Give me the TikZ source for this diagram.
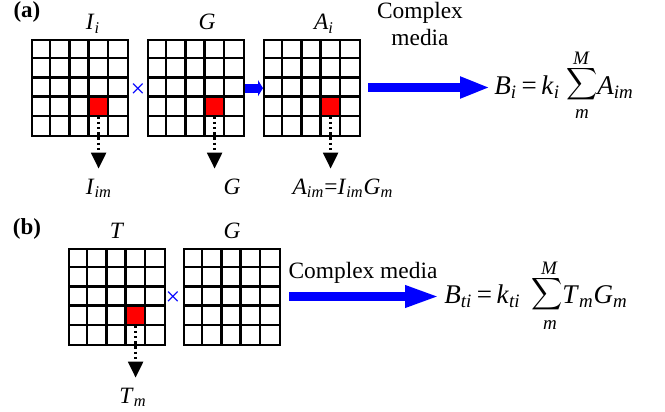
\documentclass[tikz,border=0pt]{standalone}
\usepackage{graphicx}
\usepackage{fontspec}
\setmainfont{Liberation Serif}
\usetikzlibrary{arrows.meta,calc}
\definecolor{pureblue}{RGB}{0,0,255}
\definecolor{purered}{RGB}{255,0,0}
\newcommand{\vi}[1]{\textit{#1}}
\newcommand{\vs}[1]{\textsubscript{\textit{#1}}}
\tikzset{
  gridframe/.style={draw, line width=1.15pt, minimum size=48pt, inner sep=0pt, anchor=north west},
  gridline/.style={line width=1.15pt},
  redcellbox/.style={fill=purered, minimum size=9.6pt, inner sep=0pt, anchor=north west},
  dotarrow/.style={line width=1.2pt, dash pattern=on 1.2pt off 1.4pt, -{Triangle[width=7.5pt,length=8pt]}},
  bigarrow/.style={pureblue, line width=4.75pt, -{Triangle[width=10pt,length=15pt]}},
  smallarrow/.style={pureblue, line width=4.5pt, -{Triangle[width=8pt,length=2.5pt]}},
  lbl/.style={anchor=base, inner sep=0pt},
  formula/.style={anchor=base west, inner sep=0pt, font=\fontsize{13.5}{16}\selectfont},
  sumsign/.style={inner sep=0pt, font=\fontsize{10}{12}\selectfont},
  sumlimit/.style={inner sep=0pt, font=\fontsize{9.5}{11}\selectfont\itshape},
  timesmark/.style={text=pureblue, inner sep=0pt, font=\fontsize{13}{15}\selectfont},
}
\newcommand{\pixgrid}[3]{%
  \node[gridframe] (#1) at (#2,#3) {};
  \foreach \k in {1,...,4} {
    \draw[gridline] ($(#1.north west)+(\k*19.2,0)$) -- ($(#1.south west)+(\k*19.2,0)$);
    \draw[gridline] ($(#1.north west)+(0,\k*19.2)$) -- ($(#1.north east)+(0,\k*19.2)$);
  }}
\newcommand{\redcell}[3]{%
  \node[redcellbox] (#1) at ($(#2,#3)+(57.6,57.6)$) {};}
\newcommand{\bigsum}{\scalebox{1.08}[1.12]{$\displaystyle\sum$}}
\begin{document}
\begin{tikzpicture}[x=0.5pt, y=-0.5pt, font=\fontsize{11.7}{13.5}\selectfont]
\useasboundingbox (0,0) rectangle (665,412);
% ---------- (a) ----------
\node[lbl, font=\fontsize{11.5}{13}\selectfont\bfseries] (pa) at (27,18) {(a)};
\redcell{r1}{31}{39}
\redcell{r2}{147}{39}
\redcell{r3}{263}{39}
\pixgrid{g1}{31}{39}
\pixgrid{g2}{147}{39}
\pixgrid{g3}{263}{39}
\node[lbl] (lIi) at (93,30) {\vi{I}\vs{i}};
\node[lbl] (lG1) at (207,30) {\vi{G}};
\node[lbl] (lAi) at (324,30) {\vi{A}\vs{i}};
\node[timesmark] (x1) at (138,91) {×};
\draw[smallarrow] (g2.east) -- (g3.west);
\coordinate (t1) at ($(r1.south)+(0,52)$);
\coordinate (t2) at ($(r2.south)+(0,52)$);
\coordinate (t3) at ($(r3.south)+(0,52)$);
\draw[dotarrow] (r1.south) -- (t1);
\draw[dotarrow] (r2.south) -- (t2);
\draw[dotarrow] (r3.south) -- (t3);
\node[lbl] (lIim) at (99,194) {\vi{I}\vs{im}};
\node[lbl] (lG1b) at (232,194) {\vi{G}};
\node[lbl] (lAim) at (343,194) {\vi{A}\vs{im}=\vi{I}\vs{im}\vi{G}\vs{m}};
\node[align=center, inner sep=0pt, anchor=base] (cm1) at (420,46) {Complex\\media};
\coordinate (s1) at (368,87.5);
\node[formula, inner sep=2pt] (f1a) at (490,94) {\vi{B}\vs{i}\,=\,\vi{k}\vs{i}};
\node[sumsign] (sum1) at (582.5,84) {\bigsum};
\node[sumlimit] (sup1) at (581,58.5) {M};
\node[sumlimit] (sub1) at (582,114) {m};
\node[formula] (f1b) at (597,94) {\vi{A}\vs{im}};
\draw[bigarrow] (s1) -- (s1 -| f1a.west);
% ---------- (b) ----------
\node[lbl, font=\fontsize{11.5}{13}\selectfont\bfseries] (pb) at (27,234) {(b)};
\redcell{r4}{68}{248}
\pixgrid{g4}{68}{248}
\pixgrid{g5}{183}{248}
\node[lbl] (lT) at (117,238) {\vi{T}};
\node[lbl] (lG2) at (232,238) {\vi{G}};
\node[timesmark] (x2) at (173,299) {×};
\coordinate (t4) at ($(r4.south)+(0,52)$);
\draw[dotarrow] (r4.south) -- (t4);
\node[lbl] (lTm) at (133,403) {\vi{T}\vs{m}};
\node[inner sep=0pt, anchor=base] (cm2) at (363,278) {Complex media};
\coordinate (s2) at (289,296.5);
\node[formula, inner sep=2pt] (f2a) at (440,303) {\vi{B}\vs{ti}\,=\,\vi{k}\vs{ti}};
\node[sumsign] (sum2) at (547.5,294) {\bigsum};
\node[sumlimit] (sup2) at (549,268.5) {M};
\node[sumlimit] (sub2) at (550,325) {m};
\node[formula] (f2b) at (562,303) {\vi{T}\vs{m}\vi{G}\vs{m}};
\draw[bigarrow, -{Triangle[width=10pt,length=17.5pt]}] (s2) -- (s2 -| f2a.west);
\end{tikzpicture}
\end{document}
